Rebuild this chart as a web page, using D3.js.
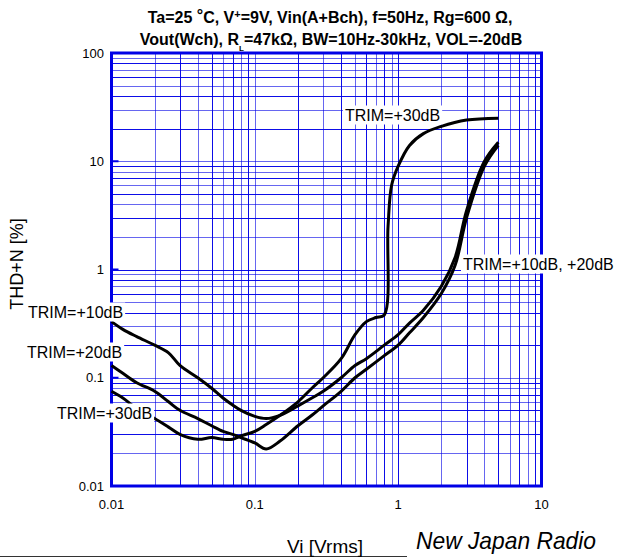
<!DOCTYPE html>
<html><head><meta charset="utf-8">
<script src="https://cdn.jsdelivr.net/npm/d3@7"></script>
<style>body{margin:0;background:#fff}svg{display:block}text{font-family:"Liberation Sans",Arial,Helvetica,sans-serif}</style>
</head><body><svg id="c" width="617" height="557"></svg>
<script>
// ---- data (Vi [Vrms] vs THD+N [%]) ----
const viA = [0.01,0.012,0.015,0.02,0.025,0.03,0.04,0.05,0.06,0.07,0.08,0.1,0.12,0.15,0.2,0.25,0.3,0.4,0.5,0.6,0.8,1,1.2,1.5,2,2.5,3,4,5];
const trim10 = [0.33,0.28,0.24,0.2,0.17,0.13,0.1,0.08,0.065,0.056,0.05,0.044,0.042,0.045,0.055,0.065,0.075,0.1,0.13,0.15,0.2,0.25,0.32,0.42,0.7,1.3,3.5,10,15];
const trim20 = [0.13,0.11,0.09,0.075,0.06,0.05,0.042,0.036,0.032,0.03,0.028,0.025,0.022,0.026,0.036,0.045,0.055,0.075,0.1,0.12,0.16,0.2,0.26,0.36,0.6,1.1,3,9,14];
const viB = [0.01,0.012,0.015,0.02,0.025,0.03,0.04,0.05,0.06,0.07,0.08,0.1,0.12,0.15,0.2,0.25,0.3,0.4,0.5,0.6,0.7,0.8,0.85,0.9,1,1.2,1.5,2,3,5];
const trim30 = [0.075,0.065,0.052,0.042,0.035,0.03,0.027,0.028,0.027,0.027,0.029,0.032,0.037,0.045,0.06,0.08,0.1,0.15,0.25,0.33,0.36,0.38,2.5,6,9,14,18,21,24,25];
const xTicks = [0.01,0.1,1,10];
const xTickLabels = ["0.01","0.1","1","10"];
const yTicks = [0.01,0.1,1,10,100];
const yTickLabels = ["0.01","0.1","1","10","100"];

const svg = d3.select("#c");
const X0=111.5, X1=541.5, Y0=53, Y1=486;
const x = d3.scaleLog().domain([0.01,10]).range([X0,X1]);
const y = d3.scaleLog().domain([0.01,100]).range([Y1,Y0]);
const blue = "#0000e6";

// grid
const g = svg.append("g");
const minorX = [], minorY = [];
[0.01,0.1,1].forEach(d=>{for(let k=1;k<=9;k++) minorX.push(d*k);});
[0.01,0.1,1,10].forEach(d=>{for(let k=1;k<=9;k++) minorY.push(d*k);});
g.selectAll(".vx").data(minorX).join("line")
  .attr("x1",d=>Math.round(x(d))+0.5).attr("x2",d=>Math.round(x(d))+0.5)
  .attr("y1",Y0).attr("y2",Y1).attr("stroke",blue).attr("stroke-width",1)
  .attr("stroke-opacity",(d,i)=>i%2?0.6:0.95);
g.selectAll(".hy").data(minorY).join("line")
  .attr("y1",d=>Math.round(y(d))+0.5).attr("y2",d=>Math.round(y(d))+0.5)
  .attr("x1",X0).attr("x2",X1).attr("stroke",blue).attr("stroke-width",1)
  .attr("stroke-opacity",(d,i)=>i%2?0.6:0.95);
// decade ticks inside left axis
g.selectAll(".dt").data(yTicks).join("line")
  .attr("x1",X0).attr("x2",X0+7).attr("y1",d=>y(d)).attr("y2",d=>y(d))
  .attr("stroke",blue).attr("stroke-width",2);
// frame
svg.append("rect").attr("x",X0).attr("y",Y0).attr("width",X1-X0).attr("height",Y1-Y0)
  .attr("fill","none").attr("stroke",blue).attr("stroke-width",3);

// curves
const line = d3.line().curve(d3.curveCatmullRom.alpha(0.5)).x(d=>x(d[0])).y(d=>y(d[1]));
const series = [viA.map((v,i)=>[v,trim10[i]]), viA.map((v,i)=>[v,trim20[i]]), viB.map((v,i)=>[v,trim30[i]])];
svg.append("g").selectAll("path").data(series).join("path")
  .attr("d",line).attr("fill","none").attr("stroke","#000").attr("stroke-width",3).attr("stroke-linejoin","round");

// axis tick labels
svg.append("g").selectAll("text").data(xTicks).join("text")
  .attr("x",d=>x(d)).attr("y",509).attr("text-anchor","middle").attr("font-size",13)
  .text((d,i)=>xTickLabels[i]);
svg.append("g").selectAll("text").data(yTicks).join("text")
  .attr("x",104).attr("y",d=>y(d)+4.5).attr("text-anchor","end").attr("font-size",13)
  .text((d,i)=>yTickLabels[i]);

// axis titles
svg.append("text").attr("transform","translate(23,264) rotate(-90)").attr("text-anchor","middle")
  .attr("font-size",18).text("THD+N [%]");
svg.append("line").attr("x1",0).attr("x2",407).attr("y1",556.5).attr("y2",556.5).attr("stroke","#333").attr("stroke-width",1);
svg.append("text").attr("x",325).attr("y",553).attr("text-anchor","middle").attr("font-size",19).text("Vi [Vrms]");

// logo
svg.append("text").attr("x",416).attr("y",549).attr("font-size",24).attr("font-style","italic")
  .attr("font-family","DejaVu Serif").attr("textLength",180).attr("lengthAdjust","spacingAndGlyphs").text("New Japan Radio");

// labels with white boxes
const labels = [
  {t:"TRIM=+30dB", x:345, y:115},
  {t:"TRIM=+10dB", x:28, y:312},
  {t:"TRIM=+20dB", x:27, y:352},
  {t:"TRIM=+30dB", x:57, y:413},
  {t:"TRIM=+10dB, +20dB", x:463, y:264}
];
labels.forEach(l=>{
  const t = svg.append("text").attr("x",l.x).attr("y",l.y+5.5).attr("font-size",16).text(l.t);
  const b = t.node().getBBox();
  svg.insert("rect",()=>t.node()).attr("x",b.x-2).attr("y",b.y-1).attr("width",b.width+4).attr("height",b.height+2).attr("fill","#fff");
});

// title
const t1 = svg.append("text").attr("x",330).attr("y",23).attr("text-anchor","middle").attr("font-size",16).attr("font-weight","bold");
t1.append("tspan").text("Ta=25 ");
t1.append("tspan").attr("dy",-2).text("°");
t1.append("tspan").attr("dy",2).text("C, V");
t1.append("tspan").attr("dy",-5).attr("font-size",11).text("+");
t1.append("tspan").attr("dy",5).text("=9V, Vin(A+Bch), f=50Hz, Rg=600 Ω,");
const t2 = svg.append("text").attr("x",331).attr("y",45).attr("text-anchor","middle").attr("font-size",16).attr("font-weight","bold");
t2.append("tspan").text("Vout(Wch), R");
t2.append("tspan").attr("dy",6).attr("font-size",8).text("L");
t2.append("tspan").attr("dy",-6).text("=47kΩ, BW=10Hz-30kHz, VOL=-20dB");
</script></body></html>
